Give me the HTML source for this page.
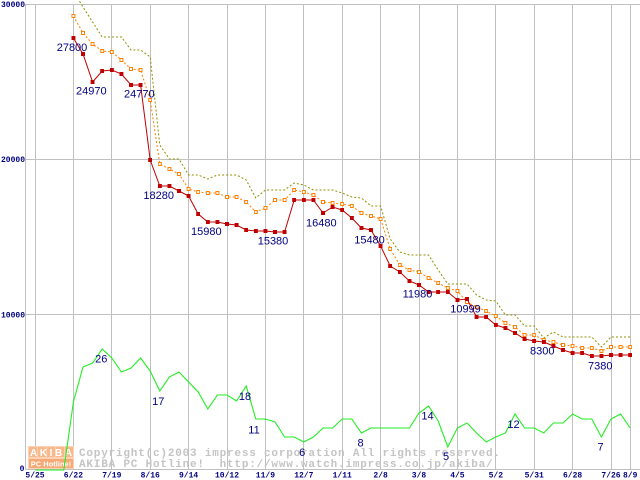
<!DOCTYPE html>
<html><head><meta charset="utf-8"><style>
html,body{margin:0;padding:0;background:#fff;}
svg{display:block;}
.ax{font-family:"Liberation Mono",monospace;font-size:8px;font-weight:bold;fill:#000080;}
.lb{font-family:"Liberation Sans",sans-serif;font-size:11px;fill:#000080;text-anchor:middle;}
.cp{font-family:"Liberation Mono",monospace;font-size:11px;font-weight:bold;fill:#c4c4c4;letter-spacing:0.8px;}
</style></head><body>
<svg width="640" height="480" viewBox="0 0 640 480" xmlns="http://www.w3.org/2000/svg">
<defs>
<marker id="mr" markerWidth="4" markerHeight="4" refX="2" refY="2" markerUnits="userSpaceOnUse"><rect width="4" height="4" fill="#c00000"/></marker>
<marker id="mo" markerWidth="4" markerHeight="4" refX="2" refY="2" markerUnits="userSpaceOnUse"><rect x="0.5" y="0.5" width="3" height="3" fill="#fff" stroke="#ff8000" stroke-width="1"/></marker>
<clipPath id="cl"><rect x="0" y="0" width="640" height="480"/></clipPath>
</defs>
<rect width="640" height="480" fill="#fff"/>
<g stroke="#c0c0c0" stroke-width="1" shape-rendering="crispEdges">
<line x1="25" y1="4.5" x2="640" y2="4.5"/>
<line x1="25" y1="159.5" x2="640" y2="159.5"/>
<line x1="25" y1="314.5" x2="640" y2="314.5"/>
<line x1="25" y1="469.5" x2="640" y2="469.5"/>
<line x1="25.5" y1="4" x2="25.5" y2="470"/>
<line x1="35.5" y1="4" x2="35.5" y2="470"/>
<line x1="73.5" y1="4" x2="73.5" y2="470"/>
<line x1="111.5" y1="4" x2="111.5" y2="470"/>
<line x1="150.5" y1="4" x2="150.5" y2="470"/>
<line x1="188.5" y1="4" x2="188.5" y2="470"/>
<line x1="227.5" y1="4" x2="227.5" y2="470"/>
<line x1="265.5" y1="4" x2="265.5" y2="470"/>
<line x1="303.5" y1="4" x2="303.5" y2="470"/>
<line x1="342.5" y1="4" x2="342.5" y2="470"/>
<line x1="380.5" y1="4" x2="380.5" y2="470"/>
<line x1="419.5" y1="4" x2="419.5" y2="470"/>
<line x1="457.5" y1="4" x2="457.5" y2="470"/>
<line x1="495.5" y1="4" x2="495.5" y2="470"/>
<line x1="534.5" y1="4" x2="534.5" y2="470"/>
<line x1="572.5" y1="4" x2="572.5" y2="470"/>
<line x1="611.5" y1="4" x2="611.5" y2="470"/>
<line x1="630.5" y1="4" x2="630.5" y2="470"/>
</g>
<!-- axis labels -->
<text class="ax" x="25" y="7" text-anchor="end">30000</text>
<text class="ax" x="25" y="162" text-anchor="end">20000</text>
<text class="ax" x="25" y="317.5" text-anchor="end">10000</text>
<text class="ax" x="22" y="471" text-anchor="middle">0</text>
<g class="ax" text-anchor="middle">
<text x="35" y="477.5">5/25</text>
<text x="73.4" y="477.5">6/22</text>
<text x="111.8" y="477.5">7/19</text>
<text x="150.2" y="477.5">8/16</text>
<text x="188.6" y="477.5">9/14</text>
<text x="227" y="477.5">10/12</text>
<text x="265.4" y="477.5">11/9</text>
<text x="303.8" y="477.5">12/7</text>
<text x="342.2" y="477.5">1/11</text>
<text x="380.6" y="477.5">2/8</text>
<text x="419" y="477.5">3/8</text>
<text x="457.4" y="477.5">4/5</text>
<text x="495.8" y="477.5">5/2</text>
<text x="534.2" y="477.5">5/31</text>
<text x="572.6" y="477.5">6/28</text>
<text x="611" y="477.5">7/26</text>
<text x="630.2" y="477.5">8/9</text>
</g>
<!-- logo -->
<g>
<rect x="28" y="446" width="46" height="23" fill="#fcd3b6"/>
<rect x="29" y="447" width="8" height="10" fill="#f9b88c"/>
<rect x="38" y="447" width="8" height="10" fill="#f9b88c"/>
<rect x="47" y="447" width="8" height="10" fill="#f9b88c"/>
<rect x="56" y="447" width="8" height="10" fill="#f9b88c"/>
<rect x="65" y="447" width="8" height="10" fill="#f9b88c"/>
<text x="30" y="456" font-family="Liberation Sans,sans-serif" font-weight="bold" font-size="10" fill="#fff" letter-spacing="2.6">AKIBA</text>
<rect x="29" y="459" width="44" height="9" fill="#f7a874"/>
<text x="51" y="466.5" font-family="Liberation Sans,sans-serif" font-weight="bold" font-size="7.5" fill="#fff" text-anchor="middle">PC Hotline!</text>
</g>
<text class="cp" x="79" y="456">Copyright(c)2003 impress corporation All rights reserved.</text>
<text class="cp" x="79" y="467">AKIBA PC Hotline! &#160;http://www.watch.impress.co.jp/akiba/</text>
<!-- series -->
<g clip-path="url(#cl)" fill="none">
<polyline stroke="#909000" stroke-width="1" stroke-dasharray="2,2" points="73.4,-9 83,7 92.6,22 102.2,37 111.8,37 121.4,37 131,50 140.6,50 150.2,57 159.8,145 169.4,159 179,159 188.6,175 198.2,175 207.8,179 217.4,175 227,175 236.6,175 246.2,180 255.8,198 265.4,190 275,190 284.6,190 294.2,183 303.8,185 313.4,190 323,190 332.6,190 342.2,193 351.8,197 361.4,198 371,206 380.6,206 390.2,239 399.8,252 409.4,255 419,255 428.6,255 438.2,270 447.8,284 457.4,284 467,284 476.6,295 486.2,300 495.8,301 505.4,315 515,315 524.6,326 534.2,326 543.8,338 553.4,332 563,337 572.6,337 582.2,337 591.8,337 601.4,347 611,337 620.6,337 630.2,337"/>
<polyline stroke="#ff8000" stroke-width="1" stroke-dasharray="2,2" marker-start="url(#mo)" marker-mid="url(#mo)" marker-end="url(#mo)" points="73.4,16 83,33 92.6,44 102.2,51 111.8,52 121.4,60 131,69 140.6,70 150.2,100 159.8,164 169.4,169 179,174 188.6,189 198.2,192 207.8,193 217.4,193 227,197 236.6,197 246.2,202 255.8,212 265.4,208 275,200 284.6,200 294.2,190 303.8,192 313.4,195 323,202 332.6,203 342.2,204 351.8,206 361.4,213 371,216 380.6,219 390.2,249 399.8,265 409.4,270 419,272 428.6,278 438.2,283 447.8,288 457.4,291 467,302 476.6,307 486.2,311 495.8,316 505.4,323 515,327 524.6,335 534.2,335 543.8,340 553.4,342 563,345 572.6,346 582.2,348 591.8,348 601.4,351 611,347 620.6,347 630.2,347"/>
<polyline stroke="#c00000" stroke-width="1" marker-start="url(#mr)" marker-mid="url(#mr)" marker-end="url(#mr)" points="73.4,38 83,54 92.6,82 102.2,71 111.8,70 121.4,74 131,85 140.6,85 150.2,160 159.8,186 169.4,186 179,191 188.6,196 198.2,214 207.8,222 217.4,222 227,224 236.6,225 246.2,230 255.8,231 265.4,231 275,232 284.6,232 294.2,200 303.8,200 313.4,200 323,213 332.6,207 342.2,210 351.8,218 361.4,228 371,230 380.6,246 390.2,266 399.8,272 409.4,281 419,285 428.6,292 438.2,292 447.8,292 457.4,300 467,299 476.6,317 486.2,317 495.8,325 505.4,328 515,333 524.6,339 534.2,341 543.8,342 553.4,346 563,350 572.6,353 582.2,353 591.8,356 601.4,356 611,355 620.6,355 630.2,355"/>
<polyline stroke="#22ee22" stroke-width="1.1" points="35,470 44.6,470 54.2,470 63.8,470 73.4,402 83,367 92.6,363 102.2,349 111.8,358 121.4,372 131,368 140.6,358 150.2,371 159.8,391 169.4,377 179,372 188.6,382 198.2,392 207.8,409 217.4,395 227,395 236.6,401 246.2,386 255.8,419 265.4,419 275,422 284.6,437 294.2,437 303.8,442 313.4,437 323,428 332.6,428 342.2,419 351.8,419 361.4,433 371,428 380.6,428 390.2,428 399.8,428 409.4,428 419,413 428.6,406 438.2,421 447.8,447 457.4,428 467,423 476.6,433 486.2,442 495.8,437 505.4,433 515,414 524.6,428 534.2,428 543.8,433 553.4,423 563,423 572.6,414 582.2,419 591.8,419 601.4,437 611,419 620.6,414 630.2,428"/>
</g>
<!-- value labels -->
<g class="lb">
<text x="72" y="51">27800</text>
<text x="91.3" y="94.3">24970</text>
<text x="139.3" y="97.7">24770</text>
<text x="158.7" y="199">18280</text>
<text x="206.3" y="235">15980</text>
<text x="273" y="244.3">15380</text>
<text x="321.3" y="226.7">16480</text>
<text x="369.5" y="243.3">15480</text>
<text x="417.5" y="297.7">11980</text>
<text x="465.5" y="312.7">10999</text>
<text x="542.3" y="354.7">8300</text>
<text x="600.3" y="369.3">7380</text>
<text x="101.3" y="362.7">26</text>
<text x="158.3" y="405">17</text>
<text x="245" y="400">18</text>
<text x="254" y="433.3">11</text>
<text x="302.2" y="456">6</text>
<text x="360.5" y="446.7">8</text>
<text x="427.5" y="419.3">14</text>
<text x="446" y="460">5</text>
<text x="513.5" y="428">12</text>
<text x="600.5" y="450.3">7</text>
</g>
</svg>
</body></html>
